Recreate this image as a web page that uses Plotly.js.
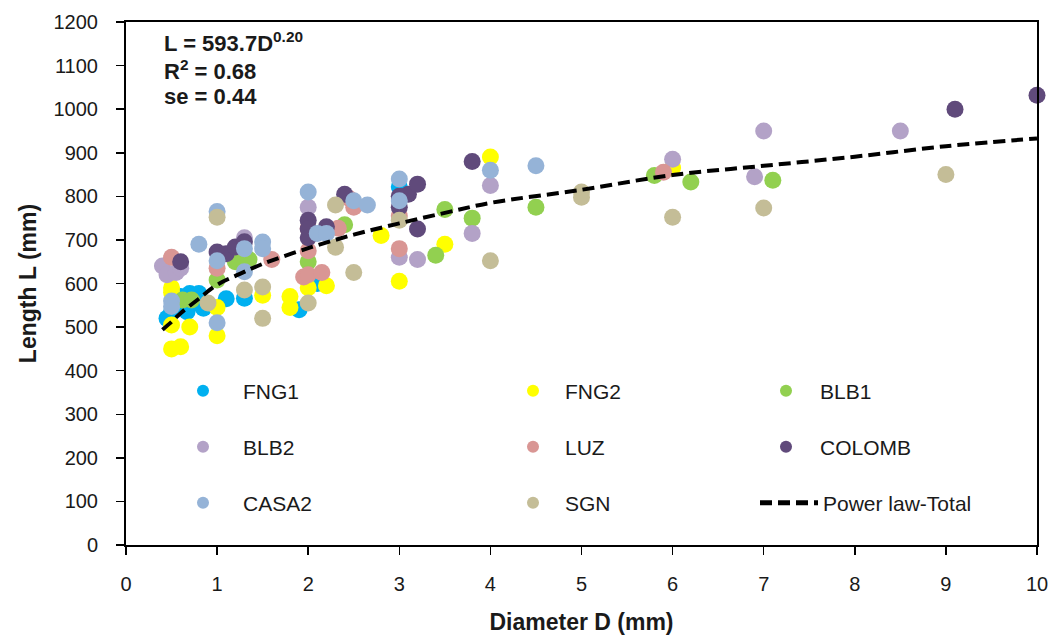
<!DOCTYPE html>
<html>
<head>
<meta charset="utf-8">
<script src="https://cdn.plot.ly/plotly-3.0.1.min.js"></script>
<style>html,body{margin:0;padding:0;background:#fff;}#chart{width:1054px;height:641px;}</style>
</head>
<body>
<div id="chart"></div>
<script>
// ---- data ----
const seriesNames = ["FNG1", "FNG2", "BLB1", "BLB2", "LUZ", "COLOMB", "CASA2", "SGN"];

const FNG1_D = [0.45, 0.5, 0.55, 0.6, 0.7, 0.8, 0.75, 0.85, 0.67, 1.1, 1.3, 1.9, 2.1, 3.0];
const FNG1_L = [520, 535, 565, 570, 577, 577, 555, 543, 535, 565, 566, 540, 600, 822];

const FNG2_D = [0.5, 0.5, 0.5, 0.5, 0.6, 0.7, 1.0, 1.0, 1.5, 1.8, 1.8, 2.0, 2.2, 2.8, 3.0, 3.5, 4.0, 6.0];
const FNG2_L = [590, 580, 505, 450, 455, 500, 545, 480, 573, 570, 545, 590, 595, 710, 605, 690, 890, 865];

const BLB1_D = [0.62, 0.72, 1.0, 1.2, 1.3, 1.35, 2.0, 2.4, 3.4, 3.5, 3.8, 4.5, 5.8, 6.2, 7.1];
const BLB1_L = [562, 562, 608, 650, 640, 655, 650, 735, 665, 770, 750, 775, 848, 833, 837];

const BLB2_D = [0.4, 0.45, 0.55, 0.6, 1.3, 2.0, 3.0, 3.2, 3.8, 4.0, 6.0, 6.9, 7.0, 8.5];
const BLB2_L = [640, 620, 625, 635, 705, 775, 660, 655, 715, 825, 885, 845, 950, 950];

const LUZ_D = [0.5, 1.0, 1.6, 1.95, 2.0, 2.0, 2.15, 2.0, 2.33, 2.45, 2.5, 3.0, 3.0, 5.9];
const LUZ_L = [660, 635, 655, 615, 620, 675, 625, 727, 727, 795, 775, 755, 680, 855];

const COLOMB_D = [0.6, 1.0, 1.1, 1.2, 1.3, 2.0, 2.0, 2.0, 2.2, 2.4, 3.0, 3.0, 3.1, 3.2, 3.2, 3.8, 9.1, 10.0];
const COLOMB_L = [650, 672, 668, 684, 696, 745, 725, 705, 730, 805, 775, 800, 805, 828, 725, 880, 1000, 1032];

const CASA2_D = [0.5, 0.5, 0.8, 1.0, 1.0, 1.0, 1.3, 1.3, 1.5, 1.5, 2.0, 2.1, 2.2, 2.5, 2.65, 3.0, 3.0, 4.0, 4.5];
const CASA2_L = [560, 547, 690, 765, 652, 510, 680, 627, 695, 680, 810, 715, 715, 790, 780, 840, 790, 860, 870];

const SGN_D = [0.9, 1.0, 1.3, 1.5, 1.5, 2.0, 2.3, 2.3, 2.5, 3.0, 4.0, 5.0, 5.0, 6.0, 7.0, 9.0];
const SGN_L = [555, 752, 585, 592, 520, 555, 780, 683, 625, 745, 652, 810, 798, 752, 773, 850];

// power-law trend line
const TREND_D = [0.4, 0.5, 0.6, 0.8, 1, 1.25, 1.5, 2, 2.5, 3, 3.5, 4, 5, 6, 7, 8, 9, 10];
const TREND_L = [494, 512, 532, 565, 597, 622, 645, 681, 712, 738, 762, 785, 815, 849, 870, 891, 915, 933];
const trendName = "Power law-Total";

const xTicks = [0, 1, 2, 3, 4, 5, 6, 7, 8, 9, 10];
const yTicks = [0, 100, 200, 300, 400, 500, 600, 700, 800, 900, 1000, 1100, 1200];

// ---- styling ----
const colors = {
  FNG1: "#00B0F0", FNG2: "#FFFF00", BLB1: "#92D050", BLB2: "#B3A2C7",
  LUZ: "#D99694", COLOMB: "#604A7B", CASA2: "#95B3D7", SGN: "#C4BD97"
};
const dataMap = {
  FNG1: [FNG1_D, FNG1_L], FNG2: [FNG2_D, FNG2_L], BLB1: [BLB1_D, BLB1_L],
  BLB2: [BLB2_D, BLB2_L], LUZ: [LUZ_D, LUZ_L], COLOMB: [COLOMB_D, COLOMB_L],
  CASA2: [CASA2_D, CASA2_L], SGN: [SGN_D, SGN_L]
};

// legend placement (one legend per entry, 3 columns x 3 rows)
const W = 1054, H = 641;
const M = {l: 126, r: 17, t: 22, b: 96};
const pw = W - M.l - M.r, ph = H - M.t - M.b;
// [left edge px, item width px] per column
const colSpec = [[163, 70], [501, 54], [752, 58]];
const trendSpec = [755, 58];
const rowY = [391, 447, 503];
const legendSlots = {
  FNG1: [0, 0], FNG2: [1, 0], BLB1: [2, 0],
  BLB2: [0, 1], LUZ: [1, 1], COLOMB: [2, 1],
  CASA2: [0, 2], SGN: [1, 2], TREND: [2, 2]
};
const FONT = "Liberation Sans, Arial, sans-serif";
const TXT = "#1a1a1a";

const traces = [];
const layout = {
  width: W, height: H,
  margin: M,
  paper_bgcolor: "#ffffff",
  plot_bgcolor: "#ffffff",
  font: {family: FONT, color: TXT, size: 20},
  xaxis: {
    range: [0, 10], tickvals: xTicks, ticktext: xTicks.map(String),
    showgrid: false, zeroline: false,
    showline: true, linecolor: "#000", linewidth: 2, mirror: true,
    ticks: "outside", ticklen: 8, tickwidth: 1.5, tickcolor: "#000",
    tickfont: {size: 20, family: FONT, color: TXT},
    ticklabelstandoff: 12,
    title: {text: "<b>Diameter D (mm)</b>", font: {size: 23, family: FONT, color: TXT}, standoff: 20}
  },
  yaxis: {
    range: [0, 1200], tickvals: yTicks, ticktext: yTicks.map(String),
    showgrid: false, zeroline: false,
    showline: true, linecolor: "#000", linewidth: 2, mirror: true,
    ticks: "outside", ticklen: 8, tickwidth: 1.5, tickcolor: "#000",
    tickfont: {size: 20, family: FONT, color: TXT},
    ticklabelstandoff: 14,
    title: {text: "<b>Length L (mm)</b>", font: {size: 23, family: FONT, color: TXT}, standoff: 10}
  },
  annotations: [
    {xref: "paper", yref: "paper", x: (162 - M.l) / pw, y: (H - M.b - 42) / ph, xanchor: "left", yanchor: "middle",
     text: "<b>L = 593.7D<sup>0.20</sup></b>", showarrow: false, font: {size: 22, family: FONT, color: TXT}},
    {xref: "paper", yref: "paper", x: (162 - M.l) / pw, y: (H - M.b - 70) / ph, xanchor: "left", yanchor: "middle",
     text: "<b>R<sup>2</sup> = 0.68</b>", showarrow: false, font: {size: 22, family: FONT, color: TXT}},
    {xref: "paper", yref: "paper", x: (162 - M.l) / pw, y: (H - M.b - 97) / ph, xanchor: "left", yanchor: "middle",
     text: "<b>se = 0.44</b>", showarrow: false, font: {size: 22, family: FONT, color: TXT}}
  ],
  showlegend: true
};

function legendKey(i) { return i === 0 ? "legend" : "legend" + (i + 1); }

const order = seriesNames.concat(["TREND"]);
order.forEach(function (name, i) {
  const slot = legendSlots[name];
  const spec = name === "TREND" ? trendSpec : colSpec[slot[0]];
  layout[legendKey(i)] = {
    x: (spec[0] - M.l) / pw,
    y: (H - M.b - rowY[slot[1]]) / ph,
    xanchor: "left", yanchor: "middle",
    bgcolor: "rgba(0,0,0,0)", borderwidth: 0,
    font: {size: 21, family: FONT, color: TXT},
    itemsizing: "constant",
    itemwidth: spec[1]
  };
});

seriesNames.forEach(function (name, i) {
  traces.push({
    type: "scatter", mode: "markers", name: name,
    x: dataMap[name][0], y: dataMap[name][1],
    marker: {color: colors[name], size: 17, line: {width: 0}},
    cliponaxis: false,
    legend: legendKey(i)
  });
});
traces.push({
  type: "scatter", mode: "lines", name: trendName,
  x: TREND_D, y: TREND_L,
  line: {color: "#000", width: 4, dash: "12px,6px", shape: "spline"},
  legend: legendKey(8)
});

Plotly.newPlot("chart", traces, layout, {displayModeBar: false, staticPlot: true});
</script>
</body>
</html>
